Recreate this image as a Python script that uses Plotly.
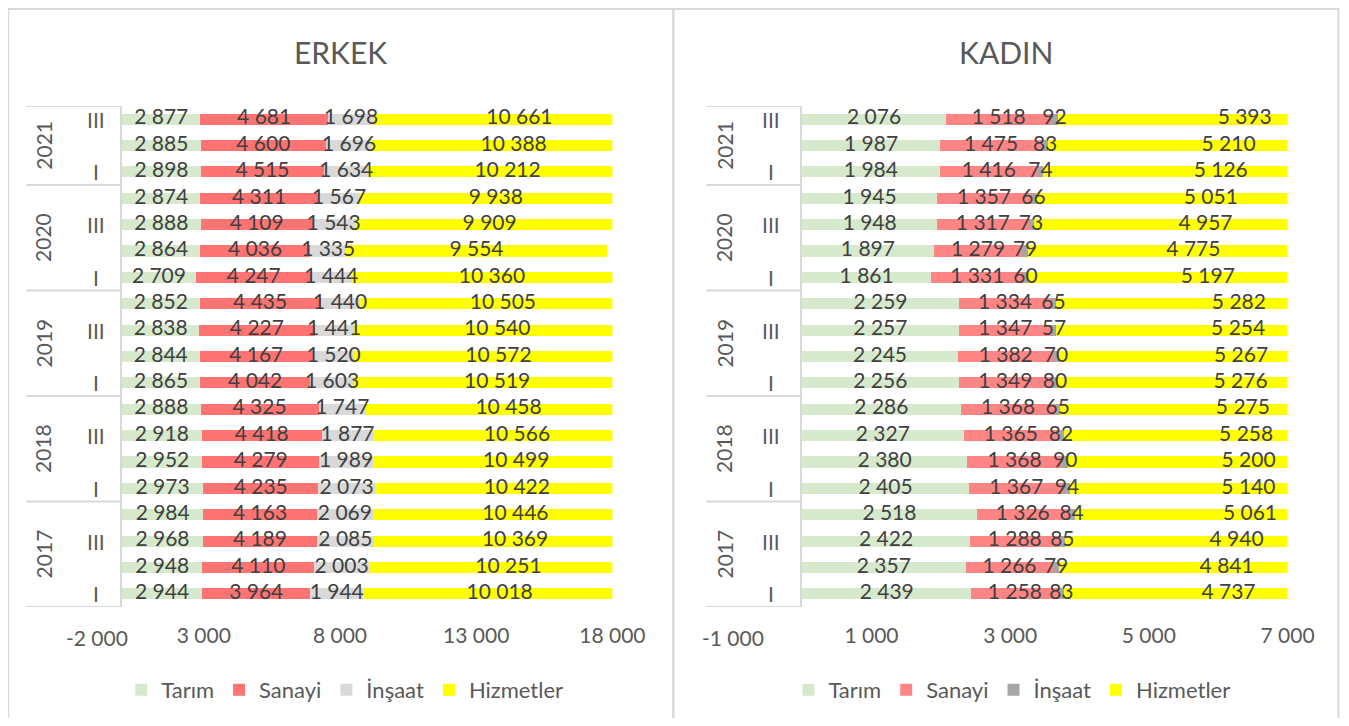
import plotly.graph_objects as go

# Positions below are given in reference-image pixels. The html body has an
# 8px margin, and the captured page is compressed horizontally by ~0.977,
# so page pixels are converted to figure pixels with these two constants.
PAGE_OFF = 8
SX = 1 / 0.977
W, H = 1360, 726 - 2 * PAGE_OFF

years = ["2017", "2018", "2019", "2020", "2021"]
quarters = ["I", "II", "III", "IV"]
shown_quarters = ["I", "III"]
periods = [(y, q) for y in years for q in quarters][:19]
categories = [f"{y} {q}" for y, q in periods]

sectors = ["Tarım", "Sanayi", "İnşaat", "Hizmetler"]

# ERKEK (2017 I -> 2021 III)
erkek_tarim = [2944, 2948, 2968, 2984, 2973, 2952, 2918, 2888, 2865, 2844, 2838, 2852,
               2709, 2864, 2888, 2874, 2898, 2885, 2877]
erkek_sanayi = [3964, 4110, 4189, 4163, 4235, 4279, 4418, 4325, 4042, 4167, 4227, 4435,
                4247, 4036, 4109, 4311, 4515, 4600, 4681]
erkek_insaat = [1944, 2003, 2085, 2069, 2073, 1989, 1877, 1747, 1603, 1520, 1441, 1440,
                1444, 1335, 1543, 1567, 1634, 1696, 1698]
erkek_hizmet = [10018, 10251, 10369, 10446, 10422, 10499, 10566, 10458, 10519, 10572, 10540, 10505,
                10360, 9554, 9909, 9938, 10212, 10388, 10661]

# KADIN (2017 I -> 2021 III)
kadin_tarim = [2439, 2357, 2422, 2518, 2405, 2380, 2327, 2286, 2256, 2245, 2257, 2259,
               1861, 1897, 1948, 1945, 1984, 1987, 2076]
kadin_sanayi = [1258, 1266, 1288, 1326, 1367, 1368, 1365, 1368, 1349, 1382, 1347, 1334,
                1331, 1279, 1317, 1357, 1416, 1475, 1518]
kadin_insaat = [83, 79, 85, 84, 94, 90, 82, 65, 80, 70, 57, 65,
                60, 79, 73, 66, 74, 83, 92]
kadin_hizmet = [4737, 4841, 4940, 5061, 5140, 5200, 5258, 5275, 5276, 5267, 5254, 5282,
                5197, 4775, 4957, 5051, 5126, 5210, 5393]

erkek_ticks = [-2000, 3000, 8000, 13000, 18000]
kadin_ticks = [-1000, 1000, 3000, 5000, 7000]
erkek_range = [0, 18000]
kadin_range = [0, 7000]

erkek_colors = ["#D6E9CC", "#FF7373", "#D9D9D9", "#FFFF00"]
kadin_colors = ["#D6E9CC", "#FF8585", "#A6A6A6", "#FFFF00"]

FONT = "Lato, 'Open Sans', sans-serif"
LABEL_COLOR = "#404040"
AXIS_COLOR = "#595959"
LINE_COLOR = "#D9D9D9"


def fmt(v):
    s = f"{abs(v):,}".replace(",", " ")
    return ("-" if v < 0 else "") + s


def px_x(p):
    return (p * SX - PAGE_OFF) / W


def px_y(p):
    return 1 - (p - PAGE_OFF) / H


fig = go.Figure()

panels = [
    dict(title="ERKEK", series=[erkek_tarim, erkek_sanayi, erkek_insaat, erkek_hizmet],
         colors=erkek_colors, xa="x", ya="y", legend="legend", ticks=erkek_ticks,
         rng=erkek_range, dom=(122, 613), year_x=43, q_x=96, box=(26, 121),
         panel=(8, 674), neg_x=97, leg_x=345),
    dict(title="KADIN", series=[kadin_tarim, kadin_sanayi, kadin_insaat, kadin_hizmet],
         colors=kadin_colors, xa="x2", ya="y2", legend="legend2", ticks=kadin_ticks,
         rng=kadin_range, dom=(803, 1289), year_x=725, q_x=772, box=(707, 802),
         panel=(674, 1340), neg_x=734, leg_x=1013),
]

annotations = []
shapes = []

for p in panels:
    base = [0] * len(categories)
    for name, vals, col in zip(sectors, p["series"], p["colors"]):
        fig.add_trace(go.Bar(
            y=categories, x=vals, name=name, orientation="h",
            marker=dict(color=col, line=dict(width=0)),
            xaxis=p["xa"], yaxis=p["ya"], legend=p["legend"],
            hoverinfo="skip",
        ))
        centers = [b + v / 2 for b, v in zip(base, vals)]
        fig.add_trace(go.Scatter(
            y=categories, x=centers, mode="text", text=[fmt(v) for v in vals],
            textposition="middle center",
            textfont=dict(family=FONT, size=21, color=LABEL_COLOR),
            xaxis=p["xa"], yaxis=p["ya"], showlegend=False, hoverinfo="skip",
            cliponaxis=False,
        ))
        base = [b + v for b, v in zip(base, vals)]

    # title
    annotations.append(dict(
        text=p["title"], xref="paper", yref="paper",
        x=px_x((p["panel"][0] + p["panel"][1]) / 2), y=px_y(52),
        xanchor="center", yanchor="middle", showarrow=False,
        font=dict(family=FONT, size=30, color=AXIS_COLOR)))

    # panel border
    shapes.append(dict(type="rect", xref="paper", yref="paper",
                       x0=px_x(p["panel"][0]), x1=px_x(p["panel"][1]),
                       y0=-0.05, y1=px_y(9),
                       line=dict(color=LINE_COLOR, width=2), layer="below"))

    # category axis: quarter labels
    for i, (yr, q) in enumerate(periods):
        if q in shown_quarters:
            annotations.append(dict(
                text=q, xref="paper", yref=p["ya"], x=px_x(p["q_x"]), y=i,
                xanchor="center", yanchor="middle", showarrow=False,
                font=dict(family=FONT, size=21, color=AXIS_COLOR)))

    # year labels and separators
    idx = 0
    bounds = [-0.5]
    for yr in years:
        n = sum(1 for (y_, _) in periods if y_ == yr)
        annotations.append(dict(
            text=yr, xref="paper", yref=p["ya"], x=px_x(p["year_x"]),
            y=idx + (n - 1) / 2, textangle=-90,
            xanchor="center", yanchor="middle", showarrow=False,
            font=dict(family=FONT, size=21, color=AXIS_COLOR)))
        idx += n
        bounds.append(idx - 0.5)
    for b in bounds:
        shapes.append(dict(type="line", xref="paper", yref=p["ya"],
                           x0=px_x(p["box"][0]), x1=px_x(p["box"][1]), y0=b, y1=b,
                           line=dict(color=LINE_COLOR, width=2)))

    # the first (negative) tick lies left of the plotted range
    annotations.append(dict(
        text=fmt(p["ticks"][0]), xref="paper", yref="paper",
        x=px_x(p["neg_x"]), y=px_y(637), xanchor="center", yanchor="middle",
        showarrow=False, font=dict(family=FONT, size=21, color=AXIS_COLOR)))

ydom = [px_y(607), px_y(106)]

axis_common_x = dict(showgrid=False, zeroline=False, showline=False, ticks="",
                     tickfont=dict(family=FONT, size=21, color=AXIS_COLOR),
                     ticklabelstandoff=14, fixedrange=True)
axis_common_y = dict(type="category", categoryorder="array", categoryarray=categories,
                     showgrid=False, zeroline=False, showline=True, linecolor=LINE_COLOR,
                     linewidth=2, showticklabels=False, ticks="", range=[-0.5, 18.5],
                     fixedrange=True)

fig.update_layout(
    width=W, height=H, margin=dict(l=0, r=0, t=0, b=0),
    paper_bgcolor="white", plot_bgcolor="white",
    barmode="stack", bargap=0.58,
    font=dict(family=FONT, color=AXIS_COLOR),
    xaxis=dict(domain=[px_x(panels[0]["dom"][0]), px_x(panels[0]["dom"][1])],
               range=erkek_range, tickvals=erkek_ticks[1:],
               ticktext=[fmt(t) for t in erkek_ticks[1:]], anchor="y", **axis_common_x),
    yaxis=dict(domain=ydom, anchor="x", **axis_common_y),
    xaxis2=dict(domain=[px_x(panels[1]["dom"][0]), px_x(panels[1]["dom"][1])],
                range=kadin_range, tickvals=kadin_ticks[1:],
                ticktext=[fmt(t) for t in kadin_ticks[1:]], anchor="y2", **axis_common_x),
    yaxis2=dict(domain=ydom, anchor="x2", **axis_common_y),
    legend=dict(orientation="h", x=px_x(panels[0]["leg_x"]), y=px_y(690),
                xanchor="center", yanchor="middle", traceorder="normal",
                font=dict(family=FONT, size=22, color=AXIS_COLOR), bgcolor="rgba(0,0,0,0)"),
    legend2=dict(orientation="h", x=px_x(panels[1]["leg_x"]), y=px_y(690),
                 xanchor="center", yanchor="middle", traceorder="normal",
                 font=dict(family=FONT, size=22, color=AXIS_COLOR), bgcolor="rgba(0,0,0,0)"),
    annotations=annotations,
    shapes=shapes,
)

fig.write_html("out.html")
